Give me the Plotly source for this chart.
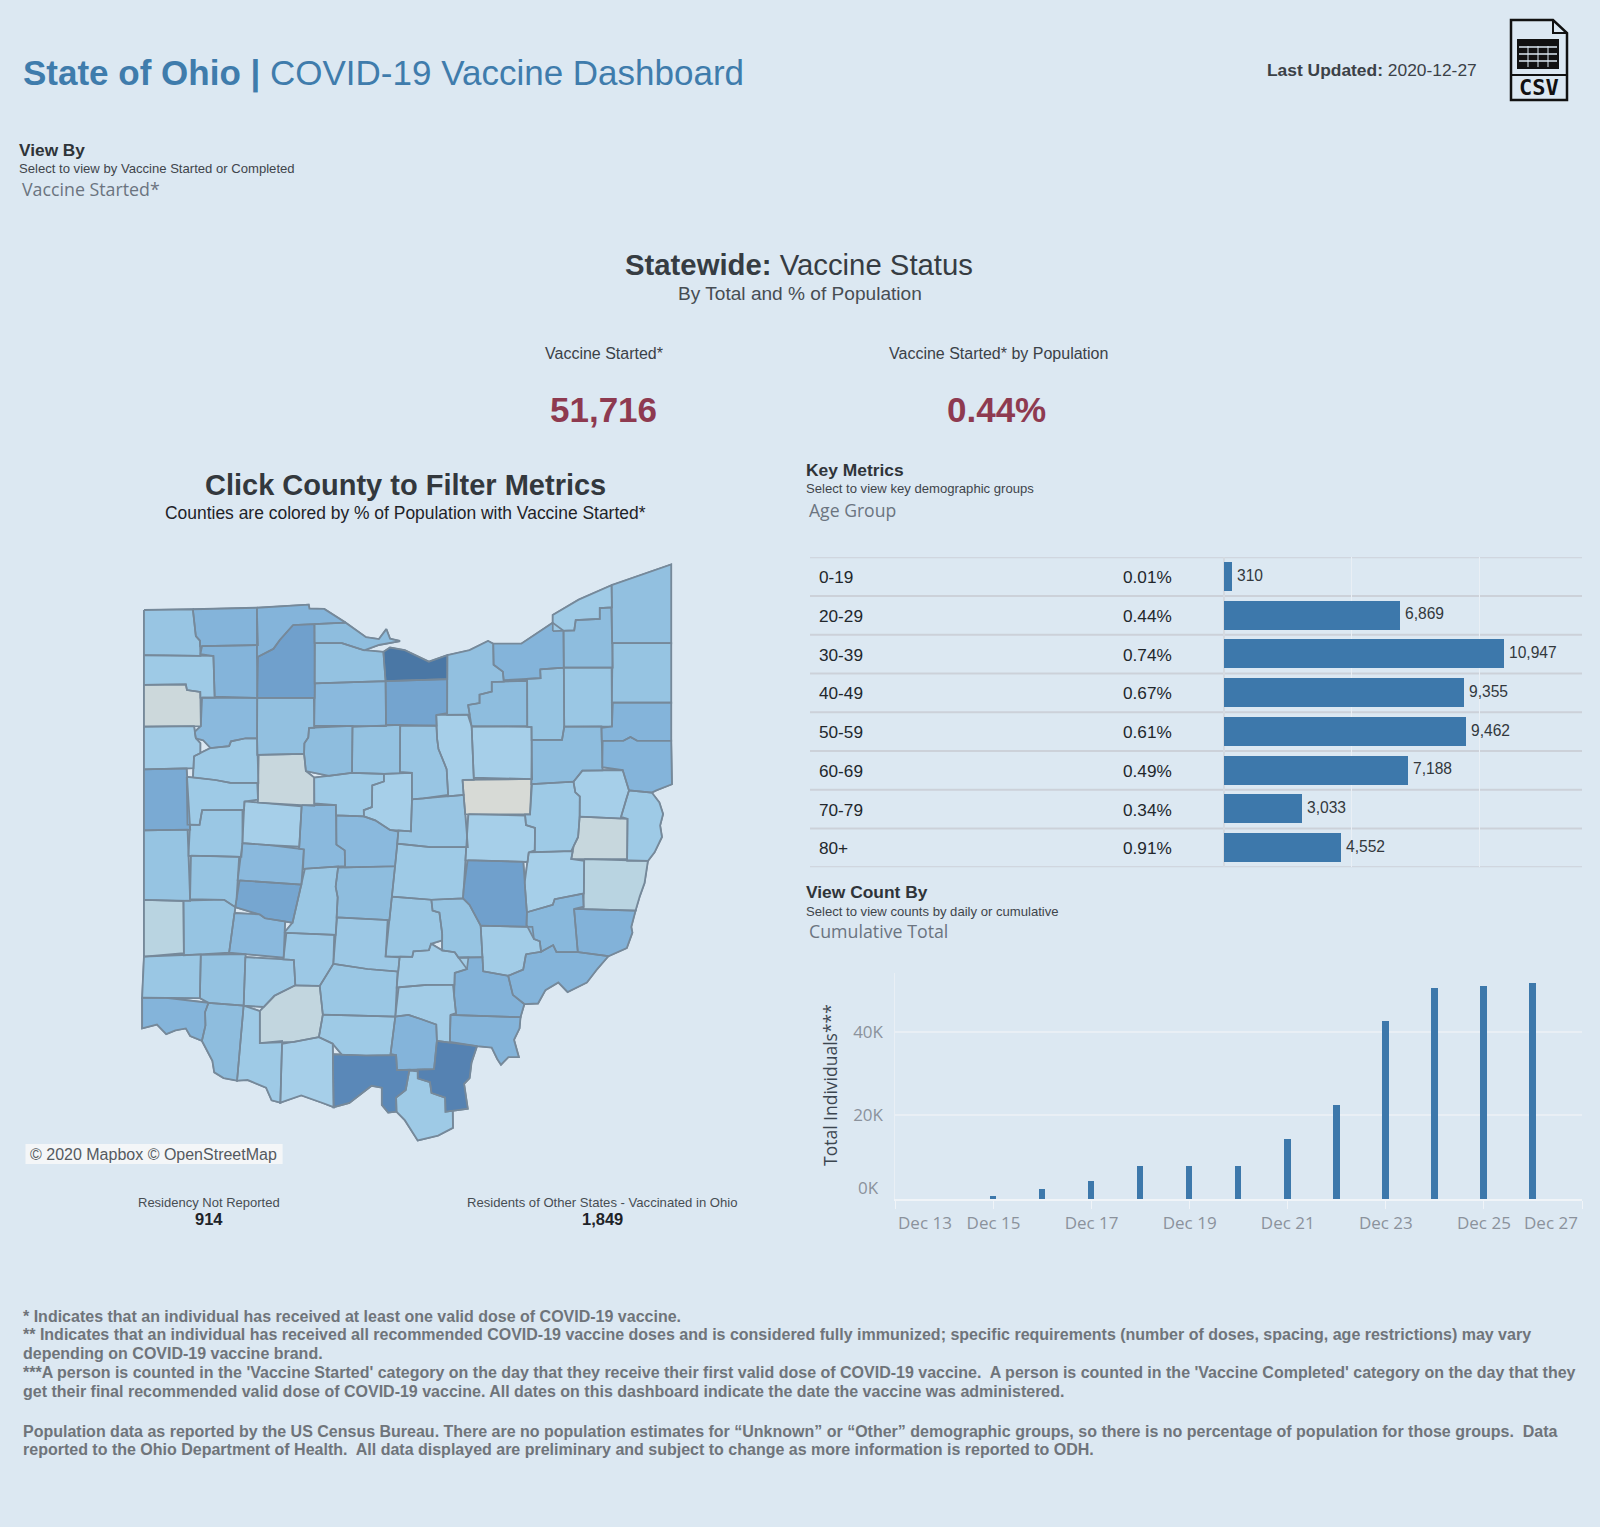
import math
import plotly.graph_objects as go

W, H = 1600, 1527
BG = "#dce8f2"
SANS = "Liberation Sans"
BOOK = "Open Sans"

# ---- key metrics ----
AGE_GROUPS = ["0-19", "20-29", "30-39", "40-49", "50-59", "60-69", "70-79", "80+"]
AGE_COUNTS = [310, 6869, 10947, 9355, 9462, 7188, 3033, 4552]
AGE_PCT = ["0.01%", "0.44%", "0.74%", "0.67%", "0.61%", "0.49%", "0.34%", "0.91%"]

# ---- cumulative total ----
DAYS = ["2020-12-15", "2020-12-16", "2020-12-17", "2020-12-18", "2020-12-19", "2020-12-20",
        "2020-12-21", "2020-12-22", "2020-12-23", "2020-12-24", "2020-12-25", "2020-12-26"]
CUMULATIVE = [800, 2300, 4200, 8000, 8000, 8000, 14300, 22600, 42600, 50500, 50900, 51716]
DAY_TICKS = ["2020-12-13", "2020-12-15", "2020-12-17", "2020-12-19", "2020-12-21",
             "2020-12-23", "2020-12-25", "2020-12-27"]
DAY_TICK_TEXT = ["", "Dec 15", "Dec 17", "Dec 19", "Dec 21", "Dec 23", "Dec 25", ""]

# ---- county map: colour share (relative shade) and digitised outline ----
COUNTY_SHARE = [
 .45,.55,.55,.65,.50,.47,.95,.48,.55,.42,.50,.48,.46,.44,.46,.50,.42,.55,.12,.52,
 .48,.52,.63,.38,.38,.50,.55,.55,.40,.42,.15,.50,.47,.45,.42,.38,.45,.05,.42,.38,
 .42,.16,.27,.38,.38,.65,.42,.52,.52,.38,.42,.60,.44,.46,.46,.52,.62,.44,.50,.44,
 .46,.40,.53,.56,.55,.56,.40,.43,.43,.52,.46,.27,.44,.47,.43,.55,.50,.42,.20,.38,
 .44,.42,.40,.55,.55,.85,.80,.42]
COUNTY_OUTLINES = [
 [(65,157),(197,155),(205,225),(217,237),(215,272),(65,272)],
 [(197,155),(370,151),(370,247),(222,250),(215,237),(205,225),(203,190)],
 [(370,151),(510,143),(512,153),(552,154),(610,190),(525,193),(468,196),(432,235),(415,258),(378,278),(372,282)],
 [(468,196),(525,193),(525,385),(372,385),(372,282),(415,258),(432,235)],
 [(527,195),(610,190),(665,228),(700,233),(720,207),(730,232),(757,238),(700,248),(660,262),(600,242),(527,240)],
 [(527,246),(600,245),(660,262),(712,268),(716,345),(527,347)],
 [(712,265),(730,255),(770,262),(835,292),(885,275),(885,337),(718,337)],
 [(885,275),(945,262),(995,238),(1008,245),(1010,300),(1035,318),(1035,340),(1005,345),(1005,370),(972,378),(972,400),(940,405),(940,430),(885,428)],
 [(1010,245),(1085,245),(1170,190),(1198,210),(1198,305),(1135,312),(1137,335),(1040,340),(1035,318),(1010,300)],
 [(1170,212),(1170,170),(1240,130),(1328,92),(1328,150),(1297,152),(1297,180),(1232,183),(1228,210)],
 [(1200,212),(1228,210),(1232,183),(1297,180),(1297,152),(1328,150),(1328,305),(1200,305)],
 [(1330,92),(1490,38),(1490,242),(1332,242)],
 [(1332,245),(1490,245),(1490,398),(1332,398)],
 [(1203,310),(1330,310),(1330,460),(1203,460)],
 [(1137,312),(1198,310),(1200,460),(1195,495),(1115,495),(1112,462),(1102,460),(1102,342),(1137,335)],
 [(942,405),(972,400),(972,378),(1005,370),(1005,345),(1100,342),(1100,460),(942,460)],
 [(65,277),(250,277),(255,383),(222,383),(217,370),(180,365),(178,350),(65,352)],
 [(222,252),(370,250),(370,385),(257,383),(255,277),(220,272)],
 [(65,353),(178,352),(182,367),(217,372),(217,460),(65,460)],
 [(222,388),(370,388),(370,490),(340,492),(300,500),(295,510),(245,515),(225,497),(205,492),(205,475),(220,460)],
 [(372,388),(523,388),(523,460),(512,465),(510,490),(497,505),(498,532),(375,533),(372,495)],
 [(527,350),(716,350),(716,456),(527,458)],
 [(722,338),(884,338),(884,425),(855,430),(855,458),(722,456)],
 [(855,432),(940,432),(952,460),(955,595),(925,600),(925,638),(888,640),(886,575),(877,545),(862,520),(857,490)],
 [(958,463),(1113,463),(1113,597),(958,595)],
 [(1117,497),(1195,497),(1200,465),(1300,465),(1303,565),(1250,575),(1225,605),(1113,612)],
 [(1333,400),(1490,400),(1490,497),(1398,497),(1380,487),(1362,497),(1305,497),(1303,465),(1330,462)],
 [(1305,500),(1360,500),(1380,490),(1398,500),(1490,500),(1492,612),(1450,628),(1435,633),(1375,627),(1360,575),(1305,570)],
 [(65,463),(200,463),(205,492),(217,505),(215,527),(200,540),(198,570),(65,572)],
 [(200,538),(245,520),(295,515),(300,500),(340,492),(370,492),(370,605),(300,607),(258,600),(198,590)],
 [(375,538),(498,536),(500,575),(523,595),(523,662),(375,652)],
 [(510,465),(625,462),(625,580),(565,588),(505,580),(497,530),(500,505),(508,490)],
 [(632,462),(755,460),(755,580),(712,585),(632,582)],
 [(760,460),(855,460),(858,500),(860,520),(880,570),(886,640),(820,645),(790,650),(790,582),(758,580)],
 [(527,595),(625,585),(712,585),(712,605),(682,615),(680,672),(658,680),(660,695),(585,690),(585,665),(527,662)],
 [(716,585),(788,583),(788,650),(785,735),(730,730),(690,705),(660,695),(660,680),(682,672),(682,615),(715,605)],
 [(790,655),(935,642),(937,775),(840,775),(750,765),(755,735),(788,735)],
 [(927,602),(1112,600),(1107,690),(942,687),(927,640)],
 [(1115,612),(1225,607),(1232,635),(1243,645),(1240,695),(1237,750),(1220,785),(1122,785),(1122,725),(1097,718),(1095,695),(1110,692)],
 [(1228,605),(1250,578),(1358,575),(1362,605),(1375,628),(1368,650),(1352,697),(1245,695),(1243,643),(1230,632)],
 [(1378,630),(1440,635),(1458,660),(1468,690),(1460,720),(1465,750),(1445,790),(1427,810),(1372,808),(1372,700),(1355,697)],
 [(1243,700),(1372,705),(1370,808),(1220,805),(1220,770),(1240,750)],
 [(1257,813),(1427,815),(1418,870),(1405,905),(1395,940),(1255,932)],
 [(942,692),(1095,693),(1098,720),(1122,727),(1120,785),(1105,790),(1102,815),(940,810)],
 [(1105,790),(1220,788),(1220,810),(1253,812),(1252,895),(1205,905),(1175,910),(1170,925),(1105,945),(1095,870)],
 [(940,812),(1090,818),(1095,945),(1098,980),(972,975),(945,925),(925,905),(935,890)],
 [(750,770),(840,778),(935,778),(932,912),(840,912),(740,905)],
 [(585,697),(658,698),(690,708),(730,733),(750,737),(745,825),(610,822),(608,785),(585,770)],
 [(490,670),(582,668),(585,770),(607,785),(607,830),(500,832),(497,780),(487,775)],
 [(338,657),(492,670),(483,775),(405,770),(335,765)],
 [(187,593),(258,602),(298,610),(372,612),(372,652),(335,657),(332,678),(222,680),(215,717),(187,715)],
 [(65,575),(180,575),(180,727),(65,730)],
 [(192,720),(215,720),(222,680),(330,680),(328,765),(322,800),(260,797),(192,797)],
 [(65,735),(185,735),(187,912),(65,912)],
 [(192,800),(322,803),(318,915),(310,930),(283,913),(192,912)],
 [(330,768),(405,773),(497,785),(495,872),(325,862)],
 [(322,865),(492,878),(468,973),(392,960),(378,950),(315,935)],
 [(500,835),(590,835),(583,880),(587,910),(580,1003),(450,998),(465,975)],
 [(590,825),(742,828),(735,905),(725,965),(587,958),(590,905),(583,880)],
 [(730,908),(840,915),(845,945),(862,950),(870,1000),(875,1020),(840,1028),(835,1045),(792,1048),(790,1062),(718,1062)],
 [(845,915),(925,915),(945,930),(970,960),(975,990),(985,1062),(915,1062),(905,1050),(872,1045),(872,1005),(865,945),(845,940)],
 [(978,980),(1115,985),(1120,1018),(1135,1025),(1135,1050),(1095,1055),(1090,1095),(1050,1108),(982,1100)],
 [(1100,950),(1170,930),(1175,915),(1205,910),(1250,900),(1252,932),(1225,938),(1235,1045),(1180,1050),(1170,1030),(1140,1048),(1135,1020),(1118,1015),(1100,980)],
 [(1230,938),(1392,945),(1382,985),(1385,1000),(1370,1040),(1320,1060),(1240,1055),(1238,1000)],
 [(1100,1058),(1140,1052),(1172,1035),(1180,1052),(1238,1052),(1320,1063),(1290,1095),(1262,1130),(1210,1155),(1185,1130),(1150,1150),(1130,1185),(1098,1185),(1062,1160),(1048,1120),(1058,1100),(1090,1098)],
 [(915,1068),(985,1065),(982,1102),(1050,1110),(1048,1140),(1062,1165),(1088,1188),(1085,1220),(910,1210),(900,1165),(905,1105),(938,1095)],
 [(757,1065),(790,1065),(795,1050),(835,1047),(842,1030),(870,1048),(905,1052),(915,1065),(942,1070),(938,1095),(905,1105),(900,1135),(830,1135),(790,1145),(755,1142)],
 [(587,962),(722,968),(718,1062),(755,1065),(750,1100),(670,1095),(582,1080)],
 [(450,1003),(578,1008),(578,1080),(560,1110),(540,1138),(475,1138),(470,1070),(442,1065)],
 [(303,948),(378,955),(392,965),(445,978),(442,1065),(295,1052)],
 [(173,918),(280,915),(310,935),(295,1052),(175,1050)],
 [(65,917),(170,917),(170,1057),(65,1060)],
 [(65,1065),(215,1058),(215,1170),(60,1168)],
 [(222,1058),(337,1063),(332,1188),(240,1180),(217,1172)],
 [(340,1065),(470,1073),(472,1135),(415,1165),(385,1190),(335,1188)],
 [(60,1172),(125,1170),(240,1182),(228,1205),(230,1240),(218,1280),(190,1270),(178,1250),(150,1255),(125,1265),(100,1240),(60,1250)],
 [(238,1188),(332,1192),(315,1385),(280,1380),(255,1365),(250,1335),(225,1285),(232,1245),(232,1210)],
 [(338,1195),(378,1205),(378,1290),(438,1290),(432,1445),(410,1438),(395,1405),(345,1385),(318,1388)],
 [(378,1205),(420,1165),(475,1140),(540,1140),(547,1210),(538,1272),(470,1280),(378,1287)],
 [(440,1292),(535,1275),(575,1290),(575,1460),(548,1445),(490,1425),(435,1443)],
 [(570,1085),(668,1095),(750,1103),(745,1222),(550,1215),(545,1190),(540,1140)],
 [(548,1218),(735,1225),(730,1315),(665,1320),(600,1312),(575,1290),(540,1272)],
 [(752,1145),(830,1138),(900,1137),(908,1210),(892,1215),(892,1283),(860,1282),(855,1240),(815,1225),(780,1215),(747,1215)],
 [(750,1215),(780,1215),(815,1228),(855,1240),(855,1282),(848,1355),(750,1358),(748,1320),(732,1318)],
 [(895,1215),(1080,1222),(1080,1250),(1065,1280),(1078,1325),(1050,1325),(1030,1345),(1020,1330),(1005,1300),(965,1295),(892,1288)],
 [(855,1285),(965,1298),(950,1340),(945,1380),(930,1395),(940,1460),(880,1468),(880,1430),(842,1418),(838,1390),(805,1380),(805,1360),(850,1358)],
 [(578,1318),(665,1322),(745,1320),(748,1360),(780,1360),(770,1410),(745,1430),(750,1470),(725,1470),(708,1450),(708,1405),(680,1400),(620,1445),(580,1452)],
 [(785,1362),(805,1365),(805,1382),(838,1392),(842,1420),(878,1432),(880,1468),(900,1470),(900,1510),(860,1530),(805,1543),(770,1490),(745,1465),(748,1432),(775,1412)],
]

FOOTNOTES = [
 "* Indicates that an individual has received at least one valid dose of COVID-19 vaccine.",
 "** Indicates that an individual has received all recommended COVID-19 vaccine doses and is considered fully immunized; specific requirements (number of doses, spacing, age restrictions) may vary",
 "depending on COVID-19 vaccine brand.",
 "***A person is counted in the 'Vaccine Started' category on the day that they receive their first valid dose of COVID-19 vaccine.  A person is counted in the 'Vaccine Completed' category on the day that they",
 "get their final recommended valid dose of COVID-19 vaccine. All dates on this dashboard indicate the date the vaccine was administered.",
 "Population data as reported by the US Census Bureau. There are no population estimates for “Unknown” or “Other” demographic groups, so there is no percentage of population for those groups.  Data",
 "reported to the Ohio Department of Health.  All data displayed are preliminary and subject to change as more information is reported to ODH.",
]
FOOTNOTE_Y = [1316, 1334.5, 1353, 1372.5, 1391, 1431, 1449.5]

RAMP = [(.05, "#d7dad6"), (.15, "#c8d7dd"), (.27, "#b9d4e1"), (.38, "#a6cfe9"), (.46, "#96c4e2"),
        (.55, "#84b4da"), (.65, "#70a0cc"), (.80, "#5a88b8"), (.95, "#4a77a5")]
EDGE = "#76899a"


def shade(v):
    for (a, ca), (b, cb) in zip(RAMP, RAMP[1:]):
        if v <= b:
            t = (v - a) / (b - a)
            ch = [round(int(ca[i:i + 2], 16) * (1 - t) + int(cb[i:i + 2], 16) * t) for i in (1, 3, 5)]
            return "rgb(%d,%d,%d)" % tuple(ch)
    return RAMP[-1][1]


def tidy(rings, near=11.0, line=9.0):
    """Make neighbouring digitised outlines share their borders: merge nearby corners,
    then pull any corner lying just off a neighbour's edge onto that edge."""
    rings = [[list(p) for p in r] for r in rings]
    pts = [(i, j) for i, r in enumerate(rings) for j in range(len(r))]
    parent = list(range(len(pts)))

    def find(a):
        while parent[a] != a:
            parent[a] = parent[parent[a]]
            a = parent[a]
        return a

    for a, (i, j) in enumerate(pts):
        for b in range(a + 1, len(pts)):
            k, m = pts[b]
            if i != k and math.dist(rings[i][j], rings[k][m]) < near:
                parent[find(a)] = find(b)
    groups = {}
    for a in range(len(pts)):
        groups.setdefault(find(a), []).append(a)
    for g in groups.values():
        cx = sum(rings[pts[a][0]][pts[a][1]][0] for a in g) / len(g)
        cy = sum(rings[pts[a][0]][pts[a][1]][1] for a in g) / len(g)
        for a in g:
            rings[pts[a][0]][pts[a][1]] = [cx, cy]
    for i, r in enumerate(rings):
        for j, p in enumerate(r):
            best, target = line, None
            for k, q in enumerate(rings):
                if k == i:
                    continue
                for n in range(len(q)):
                    a, b = q[n], q[(n + 1) % len(q)]
                    dx, dy = b[0] - a[0], b[1] - a[1]
                    ll = dx * dx + dy * dy
                    if ll == 0:
                        continue
                    t = ((p[0] - a[0]) * dx + (p[1] - a[1]) * dy) / ll
                    if t <= 0 or t >= 1:
                        continue
                    c = [a[0] + t * dx, a[1] + t * dy]
                    d = math.dist(p, c)
                    if 0 < d < best:
                        best, target = d, c
            if target:
                r[j] = target
    return rings


def px(x):
    return x / W


def py(y):
    return 1 - y / H


def dom_x(a, b):
    return [px(a), px(b)]


def dom_y(top, bottom):
    return [py(bottom), py(top)]


def label(x, y, text, size, color="#333a40", family=SANS, anchor="left", **kw):
    return dict(x=px(x), y=py(y), xref="paper", yref="paper", text=text, showarrow=False, xanchor=anchor,
                yanchor="middle", font=dict(size=size, color=color, family=family),
                borderpad=0, borderwidth=0, **kw)


def closed(ring):
    return [p[0] for p in ring] + [ring[0][0]], [p[1] for p in ring] + [ring[0][1]]


fig = go.Figure()

# map: an edge-coloured underlay closes remaining hairline gaps, then fills, then borders
clean = tidy(COUNTY_OUTLINES)
all_x, all_y = [], []
for ring in clean:
    xs, ys = closed(ring)
    all_x += xs + [None]
    all_y += ys + [None]
fig.add_trace(go.Scatter(x=all_x, y=all_y, mode="lines", fill="toself", fillcolor=EDGE,
                         line=dict(color=EDGE, width=2), hoverinfo="skip", showlegend=False,
                         xaxis="x3", yaxis="y3"))
for share, ring in zip(COUNTY_SHARE, clean):
    xs, ys = closed(ring)
    fig.add_trace(go.Scatter(x=xs, y=ys, mode="lines", fill="toself", fillcolor=shade(share),
                             line=dict(width=0), hoverinfo="skip",
                             showlegend=False, xaxis="x3", yaxis="y3"))
fig.add_trace(go.Scatter(x=all_x, y=all_y, mode="lines", line=dict(color=EDGE, width=1.7), hoverinfo="skip",
                         showlegend=False, xaxis="x3", yaxis="y3"))

# key metric bars
fig.add_trace(go.Bar(x=AGE_COUNTS, y=list(range(len(AGE_GROUPS))), orientation="h", width=.75,
                     marker=dict(color="#3d78ab", line=dict(width=0)),
                     showlegend=False, xaxis="x2", yaxis="y2"))

# cumulative bars
fig.add_trace(go.Bar(x=DAYS, y=CUMULATIVE, width=86400000 * .13, marker=dict(color="#3d78ab", line=dict(width=0)),
                     showlegend=False, xaxis="x", yaxis="y"))

ann = []
ann.append(label(22.5, 73.5, "<b>State of Ohio |</b> COVID-19 Vaccine Dashboard", 35, "#3f7cac"))
ann.append(label(1267, 70.5, "<b>Last Updated:</b> 2020-12-27", 17.4, "#3b4147"))
ann.append(label(1539, 87.5, "<b>CSV</b>", 22, "#111111", "DejaVu Sans Mono", "center"))
ann.append(label(18.5, 150, "<b>View By</b>", 17.3, "#2f3439"))
ann.append(label(18.5, 169, "Select to view by Vaccine Started or Completed", 13.1, "#3f454b"))
ann.append(label(21.5, 189, "Vaccine Started*", 17.8, "#6b7480", BOOK))
ann.append(label(799, 264.5, "<b>Statewide:</b> Vaccine Status", 29.3, "#363c42", anchor="center"))
ann.append(label(800, 294, "By Total and % of Population", 19.1, "#474d53", anchor="center"))
ann.append(label(604, 353, "Vaccine Started*", 16, "#3b4147", anchor="center"))
ann.append(label(998, 353, "Vaccine Started* by Population", 16, "#3b4147", anchor="center"))
ann.append(label(603, 409.5, "<b>51,716</b>", 35, "#8e3a50", anchor="center"))
ann.append(label(996, 409.5, "<b>0.44%</b>", 35, "#8e3a50", anchor="center"))
ann.append(label(406, 485, "<b>Click County to Filter Metrics</b>", 29, "#33383d", anchor="center"))
ann.append(label(406, 512.5, "Counties are colored by % of Population with Vaccine Started*", 17.45, "#1e2328", anchor="center"))
ann.append(label(806, 470, "<b>Key Metrics</b>", 17.4, "#2f3439"))
ann.append(label(806, 489, "Select to view key demographic groups", 13.1, "#3f454b"))
ann.append(label(809, 510, "Age Group", 17.6, "#6b7480", BOOK))
ann.append(label(806, 892, "<b>View Count By</b>", 17.4, "#2f3439"))
ann.append(label(806, 911, "Select to view counts by daily or cumulative", 13.1, "#3f454b"))
ann.append(label(809, 931, "Cumulative Total", 17.8, "#6b7480", BOOK))
ann.append(label(209, 1202, "Residency Not Reported", 13, "#474d53", anchor="center"))
ann.append(label(209, 1219, "<b>914</b>", 16.5, "#1e2328", anchor="center"))
ann.append(label(602, 1202, "Residents of Other States - Vaccinated in Ohio", 13.1, "#474d53", anchor="center"))
ann.append(label(602, 1219, "<b>1,849</b>", 16.5, "#1e2328", anchor="center"))
ann.append(label(29.6, 1154, "© 2020 Mapbox © OpenStreetMap", 16, "#555a60"))
ann.append(label(925, 1222, "Dec 13", 17, "#8b929c", BOOK, "center"))
ann.append(label(1551, 1222, "Dec 27", 17, "#8b929c", BOOK, "center"))
ann.append(label(868, 1187.5, "0K", 17, "#8b929c", BOOK, "center"))
ann.append(label(830, 1085, "Total Individuals***", 17.5, "#3c4650", BOOK, "center", textangle=-90))
for y, t in zip(FOOTNOTE_Y, FOOTNOTES):
    ann.append(label(22.5, y, f"<b>{t}</b>", 16, "#6f747a"))
for i, (g, p, v) in enumerate(zip(AGE_GROUPS, AGE_PCT, AGE_COUNTS)):
    ann.append(dict(x=px(817), y=i, xref="paper", yref="y2", text=g, showarrow=False, xanchor="left",
                    yanchor="middle", yshift=-.5, font=dict(size=17.2, color="#22272c", family=SANS)))
    ann.append(dict(x=px(1120.5), y=i, xref="paper", yref="y2", text=p, showarrow=False, xanchor="left",
                    yanchor="middle", yshift=-.5, font=dict(size=17.2, color="#22272c", family=SANS)))
    ann.append(dict(x=v, y=i, xref="x2", yref="y2", text=f"{v:,}", showarrow=False, xanchor="left",
                    yanchor="middle", xshift=3.5, yshift=1.5, font=dict(size=15.6, color="#33383d", family=SANS)))

shapes = []


def rect(x0, y0, x1, y1, **kw):
    shapes.append(dict(type="rect", xref="paper", yref="paper", x0=px(x0), x1=px(x1), y0=py(y0), y1=py(y1), **kw))


rect(25.5, 1144, 282.6, 1164, fillcolor="#f4f6f8", line=dict(width=0), layer="below")
for i in range(len(AGE_GROUPS) + 1):
    shapes.append(dict(type="line", xref="paper", yref="y2", x0=px(810), x1=px(1582), y0=i - .5, y1=i - .5,
                       line=dict(color="#ccd1d9", width=2), layer="below"))

# csv icon
ICON = "#111111"
corner = [(1511, 20), (1553, 20), (1567, 33), (1567, 100), (1511, 100)]
path = "M " + " L ".join(f"{px(a)},{py(b)}" for a, b in corner) + " Z"
shapes.append(dict(type="path", xref="paper", yref="paper", path=path, line=dict(color=ICON, width=2.5)))
path = "M " + " L ".join(f"{px(a)},{py(b)}" for a, b in [(1553, 20), (1553, 33), (1567, 33)])
shapes.append(dict(type="path", xref="paper", yref="paper", path=path, line=dict(color=ICON, width=2)))
rect(1518, 40, 1558, 68, line=dict(color=ICON, width=2), fillcolor=ICON)
for a in (1528, 1538, 1548):
    rect(a - .5, 46, a + .5, 67, fillcolor=BG, line=dict(width=0))
for b in (47, 54, 61):
    rect(1519, b - .7, 1557, b + .7, fillcolor=BG, line=dict(width=0))
shapes.append(dict(type="line", xref="paper", yref="paper", x0=px(1511), x1=px(1567), y0=py(75), y1=py(75),
                   line=dict(color=ICON, width=2)))

fig.update_layout(
    width=W, height=H, autosize=False, margin=dict(l=0, r=0, t=0, b=0),
    paper_bgcolor=BG, plot_bgcolor="rgba(0,0,0,0)", showlegend=False,
    annotations=ann, shapes=shapes, bargap=0,
    xaxis=dict(domain=dom_x(895.4, 1582), type="date", range=["2020-12-13", "2020-12-27"],
               tickvals=DAY_TICKS, ticktext=DAY_TICK_TEXT, ticks="outside", ticklen=8, tickcolor="#f0f4f8",
               showgrid=False, showline=True, linecolor="#f0f4f8", linewidth=1.5, zeroline=False,
               tickfont=dict(size=17, color="#8b929c", family=BOOK)),
    yaxis=dict(domain=dom_y(973, 1199), range=[0, 54100], tickvals=[20000, 40000], ticktext=["20K", "40K"],
               gridcolor="#e9eff5", gridwidth=1.5, showline=True, linecolor="#e9eff5", zeroline=False, ticks="",
               tickfont=dict(size=17, color="#8b929c", family=BOOK), ticklabelstandoff=8),
    xaxis2=dict(domain=dom_x(1223.5, 1582), range=[0, 14000], tickvals=[5000, 10000], showticklabels=False,
                gridcolor="#e9eff5", gridwidth=1, zeroline=True, zerolinecolor="#d4dae1", showline=False, anchor="y2"),
    yaxis2=dict(domain=dom_y(557.3, 867.3), range=[7.5, -.5], showticklabels=False, showgrid=False,
                zeroline=False, anchor="x2"),
    xaxis3=dict(domain=dom_x(120, 700), range=[0, 1568], visible=False, anchor="y3"),
    yaxis3=dict(domain=dom_y(550, 1150), range=[1568, 0], visible=False, anchor="x3"),
)

fig.write_html("out.html", config={"displayModeBar": False},
               post_script="document.body.style.margin='0';document.body.style.overflow='hidden';")
